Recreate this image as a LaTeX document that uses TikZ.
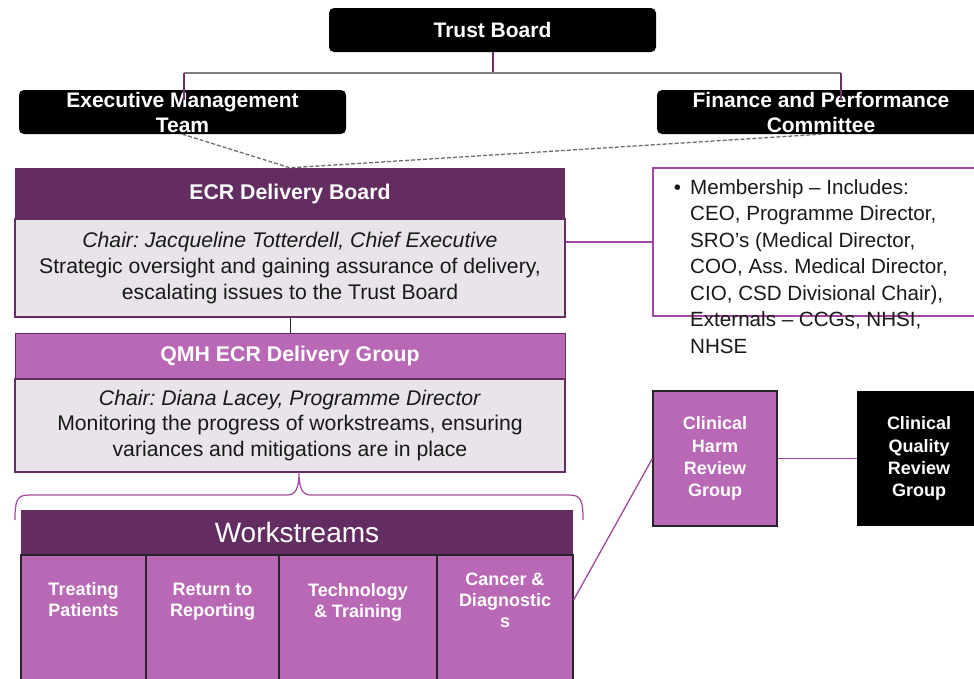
\documentclass[tikz,border=0pt]{standalone}
\usepackage{fontspec}
\setmainfont{Liberation Sans}
\frenchspacing

\definecolor{ecrdark}{HTML}{632D62}
\definecolor{ecrlight}{HTML}{B968B5}
\definecolor{ecrgrey}{HTML}{E8E4EA}
\definecolor{linkpurple}{HTML}{A348A0}
\definecolor{treepurple}{HTML}{6E2F6B}
\definecolor{treegrey}{HTML}{808080}

\tikzset{
  blackbox/.style={fill=black, rounded corners=5pt, text=white, align=center, inner sep=0pt,
    minimum width=327, minimum height=44, font=\fontsize{21}{25}\selectfont\bfseries},
  headbox/.style={text=white, inner sep=0pt, minimum width=550,
    font=\fontsize{21.3}{25}\selectfont\bfseries},
  bodybox/.style={fill=ecrgrey, draw=ecrdark, line width=1.5, text=black!90, align=center,
    inner sep=0pt, minimum width=550, font=\fontsize{21.2}{25.7}\selectfont},
  cellbox/.style={fill=ecrlight, draw=black!85, line width=1.2, inner sep=0pt, minimum height=130},
  celltext/.style={text=white, align=center, inner sep=0pt, font=\fontsize{18}{21}\selectfont\bfseries},
  groupbox/.style={text=white, align=center, inner sep=0pt, minimum width=124, minimum height=135,
    font=\fontsize{18}{22.3}\selectfont\bfseries},
  link/.style={linkpurple, line width=1.3}
}

\begin{document}
\begin{tikzpicture}[x=1pt,y=-1pt]
  \useasboundingbox (0,0) rectangle (974,678);

  % top of the structure
  \node[blackbox] (trust) at (492.5,30) {Trust Board};
  \node[blackbox] (emt) at (182.5,112) {Executive Management\\Team};
  \node[blackbox, minimum width=328] (fpc) at (821,112) {Finance and Performance\\Committee};

  \coordinate (emtdrop) at (184,73);
  \coordinate (fpcdrop) at (841,73);
  \draw[treepurple, line width=2] (trust.south) -- (trust.south |- emtdrop);
  \draw[treegrey, line width=2.8] (emtdrop) -- (fpcdrop);
  \draw[treepurple, line width=1.5] (emtdrop) -- ++(0,27);
  \draw[treepurple, line width=1.5] (fpcdrop) -- ++(0,27);

  % ECR delivery board
  \node[headbox, fill=ecrdark, minimum height=51] (ecrhead) at (290,193.5) {ECR Delivery Board};
  \node[bodybox, minimum height=98] (ecrbody) at (290,268)
    {\textit{Chair: Jacqueline Totterdell, Chief Executive}\\
     Strategic oversight and gaining assurance of delivery,\\
     escalating issues to the Trust Board};
  \draw[treegrey!85!black, line width=1.3, dash pattern=on 4pt off 2pt] (emt.south) -- (ecrhead.north) -- (fpc.south);

  % membership
  \node[draw=linkpurple, line width=2, inner sep=0pt, minimum width=340, minimum height=148] (memb) at (823,242) {};
  \node[anchor=north west, align=left, inner sep=0pt, text=black!90,
    font=\fontsize{20.6}{26.5}\selectfont] (membtext) at (690,179)
    {\makebox[0pt][r]{\textbullet\hspace{9pt}}Membership – Includes:\\
     CEO, Programme Director,\\
     SRO’s (Medical Director,\\
     COO, Ass. Medical Director,\\
     CIO, CSD Divisional Chair),\\
     Externals – CCGs, NHSI,\\
     NHSE};
  \draw[link, line width=1.5] (ecrbody.east |- memb) -- (memb.west);

  % QMH ECR delivery group
  \node[headbox, fill=ecrlight, draw=ecrdark, line width=1, minimum height=46] (qmhhead) at (290,356) {QMH ECR Delivery Group};
  \node[bodybox, minimum height=93] (qmhbody) at (290,425.5)
    {\textit{Chair: Diana Lacey, Programme Director}\\
     Monitoring the progress of workstreams, ensuring\\
     variances and mitigations are in place};
  \draw[black!85, line width=1] (ecrbody.south) -- (qmhhead.north);

  % brace over the workstreams
  \draw[link, line width=1.2] (15,520) .. controls (15,500) and (17,495) .. (29,495) -- (287,495)
    .. controls (296,495) and (299,488) .. (299,472) .. controls (299,488) and (302,495) .. (311,495)
    -- (569,495) .. controls (581,495) and (583,500) .. (583,520);

  % workstreams
  \node[fill=ecrdark, text=white, inner sep=0pt, minimum width=552, minimum height=45,
    font=\fontsize{28}{32}\selectfont] (wshead) at (297,532.5) {Workstreams};
  \node[cellbox, minimum width=125] (ws1) at (83.5,620) {};
  \node[cellbox, minimum width=133] (ws2) at (212.5,620) {};
  \node[cellbox, minimum width=158] (ws3) at (358,620) {};
  \node[cellbox, minimum width=136] (ws4) at (505,620) {};
  \node[celltext] (wt1) at (83.5,600) {Treating\\Patients};
  \node[celltext] (wt2) at (212.5,602) {Return to\\Reporting};
  \node[celltext] (wt3) at (358,602) {Technology\\\& Training};
  \node[celltext] (wt4) at (505,600) {Cancer \&\\Diagnostic\\s};

  % review groups
  \node[groupbox, fill=ecrlight, draw=black!85, line width=1.2] (chrg) at (715,458.5) {Clinical\\Harm\\Review\\Group};
  \node[groupbox, fill=black] (cqrg) at (919,458.5) {Clinical\\Quality\\Review\\Group};
  \draw[link] (ws4.east |- wt4) -- (chrg.west);
  \draw[link] (chrg.east) -- (cqrg.west);
\end{tikzpicture}
\end{document}
